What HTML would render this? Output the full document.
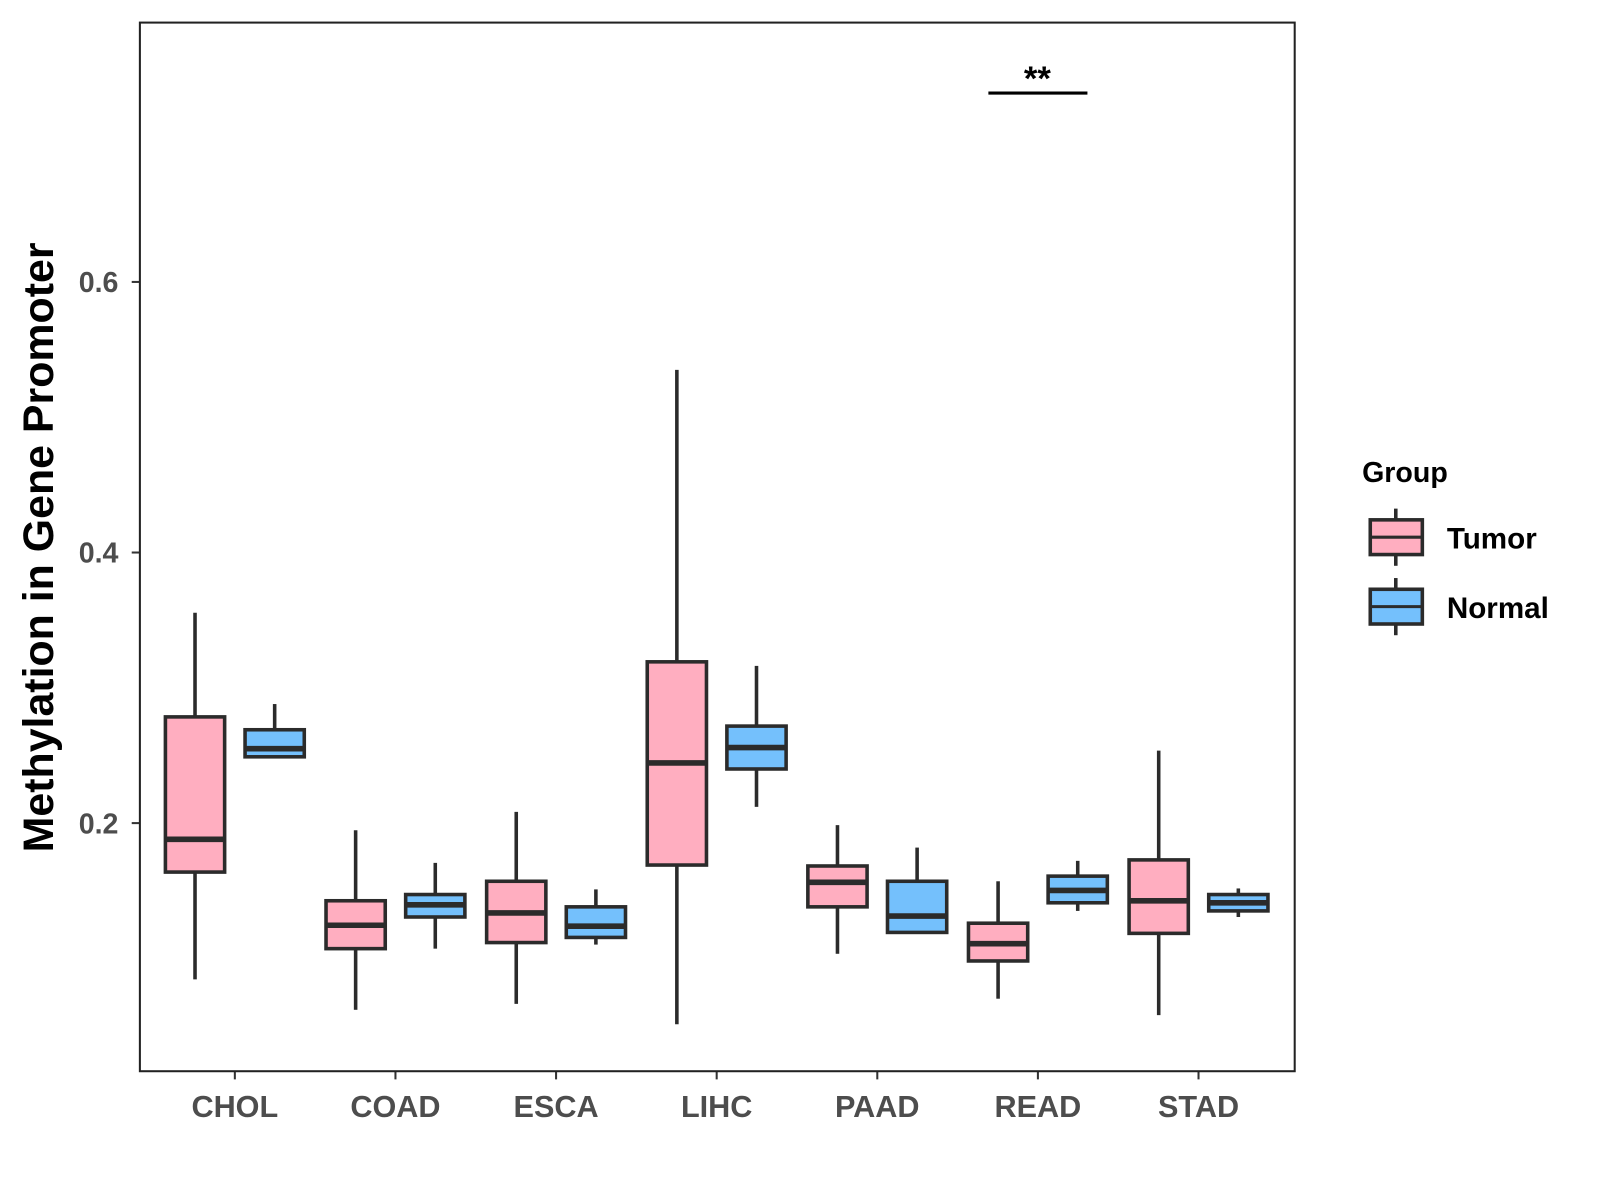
<!DOCTYPE html>
<html><head><meta charset="utf-8"><style>html,body{margin:0;padding:0;background:#fff}svg{display:block}text{font-family:"Liberation Sans",Arial,sans-serif;font-weight:bold}</style></head>
<body>
<svg id="chart" width="1600" height="1200" viewBox="0 0 1567 1175" xmlns="http://www.w3.org/2000/svg">
<rect x="0" y="0" width="1567" height="1175" fill="#fff"/>
<g id="plot"></g>
<rect x="137" y="22" width="1131" height="1027" fill="none" stroke="#222" stroke-width="2"/>
<text transform="translate(52,536) rotate(-90)" text-anchor="middle" font-size="42" fill="#000">Methylation in Gene Promoter</text>
<line x1="968" x2="1065" y1="91" y2="91" stroke="#000" stroke-width="3"/>
<text x="1016" y="88" text-anchor="middle" font-size="34" fill="#000">**</text>
<g>
<text x="1334" y="472" font-size="28" fill="#000">Group</text>
<g>
<line x1="1367" x2="1367" y1="498" y2="554" stroke="#2b2b2b" stroke-width="3.5"/>
<rect x="1342" y="509" width="51" height="34" fill="#FFAEC0" stroke="#2b2b2b" stroke-width="3.5"/>
<line x1="1342" x2="1393" y1="526" y2="526" stroke="#2b2b2b" stroke-width="3"/>
<text x="1417" y="537" font-size="29" fill="#000">Tumor</text></g>
<g>
<line x1="1367" x2="1367" y1="566" y2="622" stroke="#2b2b2b" stroke-width="3.5"/>
<rect x="1342" y="577" width="51" height="34" fill="#74C0FC" stroke="#2b2b2b" stroke-width="3.5"/>
<line x1="1342" x2="1393" y1="594" y2="594" stroke="#2b2b2b" stroke-width="3"/>
<text x="1417" y="605" font-size="29" fill="#000">Normal</text></g>
</g>
</svg>
<script>
const categories=["CHOL","COAD","ESCA","LIHC","PAAD","READ","STAD"];
const tumorMin=[0.0845,0.062,0.0664,0.0513,0.1034,0.0702,0.0581];
const tumorQ1=[0.1638,0.1072,0.1117,0.169,0.1381,0.0981,0.1185];
const tumorMed=[0.188,0.1245,0.1336,0.2445,0.1562,0.1109,0.1426];
const tumorQ3=[0.2785,0.1426,0.157,0.3192,0.1683,0.126,0.1728];
const tumorMax=[0.3555,0.1947,0.2083,0.535,0.1985,0.157,0.2536];
const normalMin=[0.249,0.1072,0.1102,0.212,0.1192,0.1351,0.1306];
const normalQ1=[0.249,0.1306,0.1155,0.24,0.1192,0.1411,0.1351];
const normalMed=[0.255,0.1396,0.1238,0.2558,0.1313,0.1502,0.1411];
const normalQ3=[0.269,0.1472,0.1381,0.2717,0.157,0.1608,0.1472];
const normalMax=[0.288,0.1706,0.151,0.3162,0.1819,0.1721,0.1517];
const yTicks=[0.2,0.4,0.6];
const yTickLabels=["0.2","0.4","0.6"];
const NS="http://www.w3.org/2000/svg";
const g=document.getElementById('plot');
function y(v){return 806-(v-0.2)*1325;}
function x(i){return 230+i*157.3;}
function mk(t,a,p){const e=document.createElementNS(NS,t);for(const k in a)e.setAttribute(k,a[k]);(p||g).appendChild(e);return e;}
yTicks.forEach((v,i)=>{
  const l=mk('line',{x1:129,x2:137,y1:y(v),y2:y(v),stroke:'#333','stroke-width':2});
  
  
  const t=mk('text',{x:116,y:y(v)+10,'text-anchor':'end','font-size':28,fill:'#4d4d4d'});
  t.textContent=yTickLabels[i];
  
  
});
categories.forEach((c,i)=>{
  const l=mk('line',{x1:x(i),x2:x(i),y1:1049,y2:1057,stroke:'#333','stroke-width':2});
  
  
  const t=mk('text',{x:x(i),y:1094,'text-anchor':'middle','font-size':30,fill:'#4d4d4d'});
  t.textContent=c;
  
  
});
function box(cx,mn,q1,md,q3,mx,fill,name){
  const grp=mk('g',{});
  
  
  mk('line',{x1:cx,x2:cx,y1:y(mx),y2:y(q3),stroke:'#2b2b2b','stroke-width':3.5},grp);
  mk('line',{x1:cx,x2:cx,y1:y(q1),y2:y(mn),stroke:'#2b2b2b','stroke-width':3.5},grp);
  mk('rect',{x:cx-29,y:y(q3),width:58,height:Math.max(1,y(q1)-y(q3)),fill:fill,stroke:'#2b2b2b','stroke-width':3.5},grp);
  mk('line',{x1:cx-29,x2:cx+29,y1:y(md),y2:y(md),stroke:'#2b2b2b','stroke-width':5.5},grp);
}
categories.forEach((c,i)=>{
  box(x(i)-39,tumorMin[i],tumorQ1[i],tumorMed[i],tumorQ3[i],tumorMax[i],'#FFAEC0','box-tumor-'+c.toLowerCase());
  box(x(i)+39,normalMin[i],normalQ1[i],normalMed[i],normalQ3[i],normalMax[i],'#74C0FC','box-normal-'+c.toLowerCase());
});
</script>
</body></html>
